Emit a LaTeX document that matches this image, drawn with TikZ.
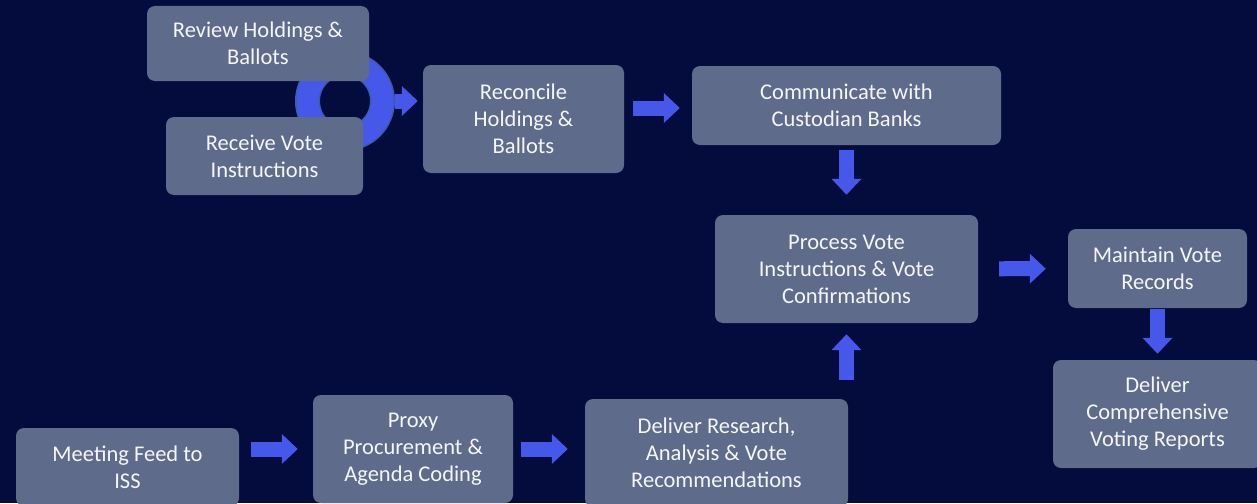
\documentclass[tikz,border=0pt]{standalone}
\usepackage{fontspec}
\setmainfont{Carlito}
\usetikzlibrary{arrows.meta}
\definecolor{bg}{HTML}{030C3C}
\definecolor{boxc}{HTML}{5F6B8A}
\definecolor{arrc}{HTML}{4558EA}
\definecolor{ringe}{HTML}{3D5BA8}

\begin{document}
\begin{tikzpicture}[x=1pt,y=-1pt]
        \tikzstyle{b} = [rectangle, rounded corners=8pt, fill=boxc, text=white!94!boxc,
                         align=center, inner sep=0pt, font=\fontsize{22.5}{27}\selectfont]
        \tikzstyle{ar} = [arrc, line width=15pt, -{Triangle[width=29pt,length=16pt]}]

        \fill[bg] (0,0) rectangle (1257,503);
        \useasboundingbox (0,0) rectangle (1257,503);

        % ring behind the two first boxes
        \node(ring) [circle, minimum size=75pt, inner sep=0pt, draw=ringe, line width=1.5pt,
                     double=arrc, double distance=22pt] at (345,101) {};

        \node(review)   [b, minimum width=222pt, minimum height=75pt]  at (258,43.5)   {Review Holdings \&\\Ballots};
        \node(receive)  [b, minimum width=197pt, minimum height=78pt]  at (264.5,156)  {Receive Vote\\Instructions};
        \node(recon)    [b, minimum width=201pt, minimum height=108pt] at (523.5,119)  {Reconcile\\Holdings \&\\Ballots};
        \node(comm)     [b, minimum width=309pt, minimum height=79pt]  at (846.5,105.5) {Communicate with\\Custodian Banks};
        \node(proc)     [b, minimum width=263pt, minimum height=108pt] at (846.5,269)  {Process Vote\\Instructions \& Vote\\Confirmations};
        \node(maint)    [b, minimum width=179pt, minimum height=79pt]  at (1157.5,268.5) {Maintain Vote\\Records};
        \node(report)   [b, minimum width=209pt, minimum height=108pt] at (1157.5,414) {Deliver\\Comprehensive\\Voting Reports};
        \node(feed)     [b, minimum width=223pt, minimum height=78pt]  at (127.5,467)  {Meeting Feed to\\ISS};
        \node(proxy)    [b, minimum width=200pt, minimum height=108pt] at (413,449)    {Proxy\\Procurement \&\\Agenda Coding};
        \node(research) [b, minimum width=263pt, minimum height=108pt] at (716.5,453)  {Deliver Research,\\Analysis \& Vote\\Recommendations};

        \draw[ar, shorten <=50pt, shorten >=5pt]  (ring.center) -- (ring.center -| recon.west);
        \draw[ar, shorten <=9pt, shorten >=12pt]  ([yshift=11pt]recon.east) -- ([yshift=11pt]recon.east -| comm.west);
        \draw[ar, shorten <=5pt, shorten >=20pt]  (comm) -- (proc);
        \draw[ar, shorten <=21pt, shorten >=22pt] (proc) -- (maint);
        \draw[ar, shorten <=1pt, shorten >=6pt]   (maint) -- (report);
        \draw[ar, shorten <=12pt, shorten >=15pt] (feed.east |- proxy) -- (proxy);
        \draw[ar, shorten <=8pt, shorten >=17pt]  (proxy) -- (proxy -| research.west);
        \draw[ar, shorten <=19pt, shorten >=11pt] (research.north -| proc) -- (proc);
      \end{tikzpicture}
\end{document}
